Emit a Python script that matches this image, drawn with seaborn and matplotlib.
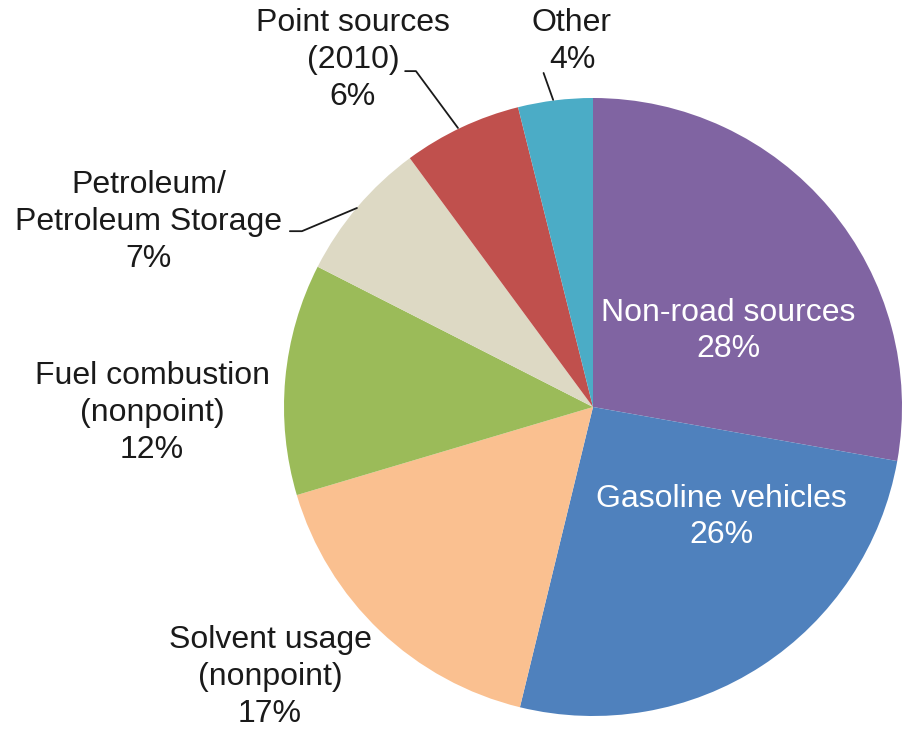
import matplotlib
matplotlib.use("Agg")
import matplotlib.pyplot as plt
import seaborn as sns

sns.set_theme(style="white")
plt.rcParams['font.family'] = ['Liberation Sans', 'DejaVu Sans']

categories = ["Non-road sources", "Gasoline vehicles", "Solvent usage\n(nonpoint)",
              "Fuel combustion\n(nonpoint)", "Petroleum/\nPetroleum Storage",
              "Point sources\n(2010)", "Other"]
values = [27.8, 26.0, 16.6, 12.1, 7.4, 6.2, 3.9]
colors = ["#8064A2", "#4F81BD", "#FAC090", "#9BBB59", "#DDD9C4", "#C0504D", "#4BACC6"]
text_colors = ["white", "white", "#1a1a1a", "#1a1a1a", "#1a1a1a", "#1a1a1a", "#1a1a1a"]

# label block centres (data coords, pie radius = 1)
label_pos = [(0.437, 0.246), (0.417, -0.356), (-1.045, -0.874), (-1.427, -0.019),
             (-1.437, 0.599), (-0.777, 1.123), (-0.068, 1.184)]
leaders = {
    4: [(-0.981, 0.569), (-0.942, 0.569), (-0.764, 0.644)],
    5: [(-0.608, 1.087), (-0.573, 1.087), (-0.437, 0.903)],
    6: [(-0.160, 1.081), (-0.129, 0.994)],
}

fig = plt.figure(figsize=(9.02, 7.29), dpi=100)
ax = fig.add_axes([0, 0, 1, 1])
ax.pie(values, colors=colors, startangle=90, counterclock=False, radius=1,
       center=(0, 0), wedgeprops=dict(linewidth=0))
ax.set_xlim(-593 / 309, (902 - 593) / 309)
ax.set_ylim(-(729 - 407) / 309, 407 / 309)
ax.set_aspect('auto')
ax.axis('off')

for i, (cat, v) in enumerate(zip(categories, values)):
    x, y = label_pos[i]
    ax.text(x, y, f"{cat}\n{v:.0f}%", ha='center', va='center', fontsize=23,
            color=text_colors[i], linespacing=1.3)

for pts in leaders.values():
    xs, ys = zip(*pts)
    ax.plot(xs, ys, color="#1a1a1a", lw=1.3)

fig.savefig("out.png", dpi=100)
